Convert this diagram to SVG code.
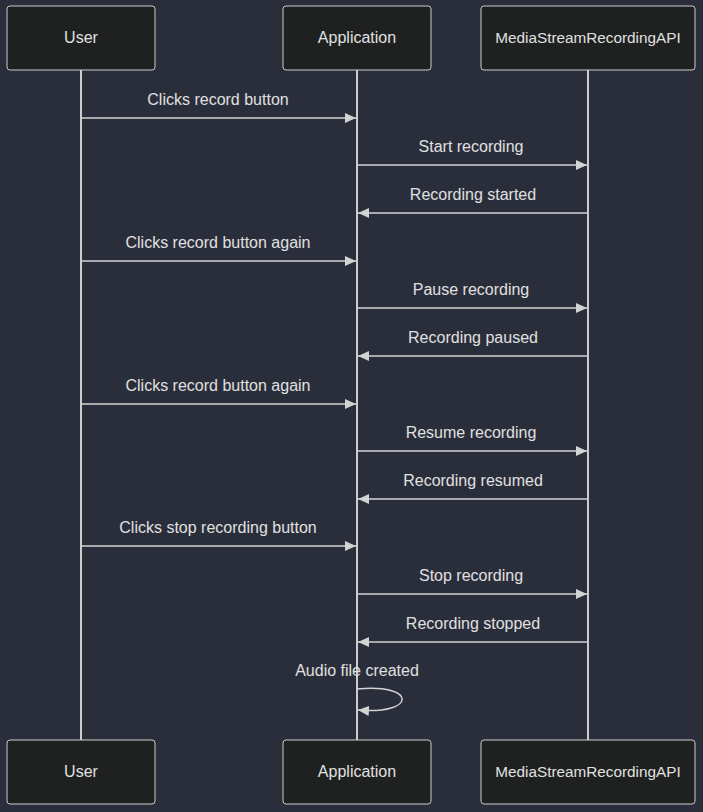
<svg xmlns="http://www.w3.org/2000/svg" width="703" height="812" viewBox="0 0 703 812">
<defs>
<marker id="ah" markerWidth="12" markerHeight="12" viewBox="0 0 12 12" refX="11" refY="6" orient="auto" markerUnits="userSpaceOnUse">
<path d="M0,1 L11,6 L0,11 Z" fill="#d3d3d3"/>
</marker>
<style>
.box{fill:#1f2020;stroke:#cccccc;stroke-width:1;}
.lbl{font-family:"Liberation Sans","DejaVu Sans",sans-serif;font-size:16px;fill:#e0e0e0;text-anchor:middle;}
.api{font-size:15.3px;}
.life{stroke:#cccccc;stroke-width:2;}
.msg{stroke:#d3d3d3;stroke-width:1.5;fill:none;marker-end:url(#ah);}
</style>
</defs>
<rect width="703" height="812" fill="#2a2e3b"/>
<g id="lifelines">
<line class="life" x1="81" y1="70" x2="81" y2="740"/>
<line class="life" x1="357" y1="70" x2="357" y2="740"/>
<line class="life" x1="588" y1="70" x2="588" y2="740"/>
</g>
<g id="node-user-top"><rect class="box" x="7" y="6" width="148" height="64" rx="3"/><text class="lbl" x="81" y="43">User</text></g>
<g id="node-app-top"><rect class="box" x="283" y="6" width="148" height="64" rx="3"/><text class="lbl" x="357" y="43">Application</text></g>
<g id="node-api-top"><rect class="box" x="481" y="6" width="214" height="64" rx="3"/><text class="lbl api" x="588" y="43">MediaStreamRecordingAPI</text></g>
<g id="node-user-bottom"><rect class="box" x="7" y="740" width="148" height="64" rx="3"/><text class="lbl" x="81" y="777">User</text></g>
<g id="node-app-bottom"><rect class="box" x="283" y="740" width="148" height="64" rx="3"/><text class="lbl" x="357" y="777">Application</text></g>
<g id="node-api-bottom"><rect class="box" x="481" y="740" width="214" height="64" rx="3"/><text class="lbl api" x="588" y="777">MediaStreamRecordingAPI</text></g>
<g id="connectors">
<line class="msg" x1="82" y1="118" x2="356" y2="118"/>
<text class="lbl" x="218" y="105">Clicks record button</text>
<line class="msg" x1="358" y1="165" x2="587" y2="165"/>
<text class="lbl" x="471" y="152">Start recording</text>
<line class="msg" x1="587" y1="213" x2="358" y2="213"/>
<text class="lbl" x="473" y="200">Recording started</text>
<line class="msg" x1="82" y1="261" x2="356" y2="261"/>
<text class="lbl" x="218" y="248">Clicks record button again</text>
<line class="msg" x1="358" y1="308" x2="587" y2="308"/>
<text class="lbl" x="471" y="295">Pause recording</text>
<line class="msg" x1="587" y1="356" x2="358" y2="356"/>
<text class="lbl" x="473" y="343">Recording paused</text>
<line class="msg" x1="82" y1="404" x2="356" y2="404"/>
<text class="lbl" x="218" y="391">Clicks record button again</text>
<line class="msg" x1="358" y1="451" x2="587" y2="451"/>
<text class="lbl" x="471" y="438">Resume recording</text>
<line class="msg" x1="587" y1="499" x2="358" y2="499"/>
<text class="lbl" x="473" y="486">Recording resumed</text>
<line class="msg" x1="82" y1="546" x2="356" y2="546"/>
<text class="lbl" x="218" y="533">Clicks stop recording button</text>
<line class="msg" x1="358" y1="594" x2="587" y2="594"/>
<text class="lbl" x="471" y="581">Stop recording</text>
<line class="msg" x1="587" y1="642" x2="358" y2="642"/>
<text class="lbl" x="473" y="629">Recording stopped</text>
<path class="msg" d="M357,689 C417,683 417,715 358,710"/>
<text class="lbl" x="357" y="676">Audio file created</text>
</g>
</svg>
